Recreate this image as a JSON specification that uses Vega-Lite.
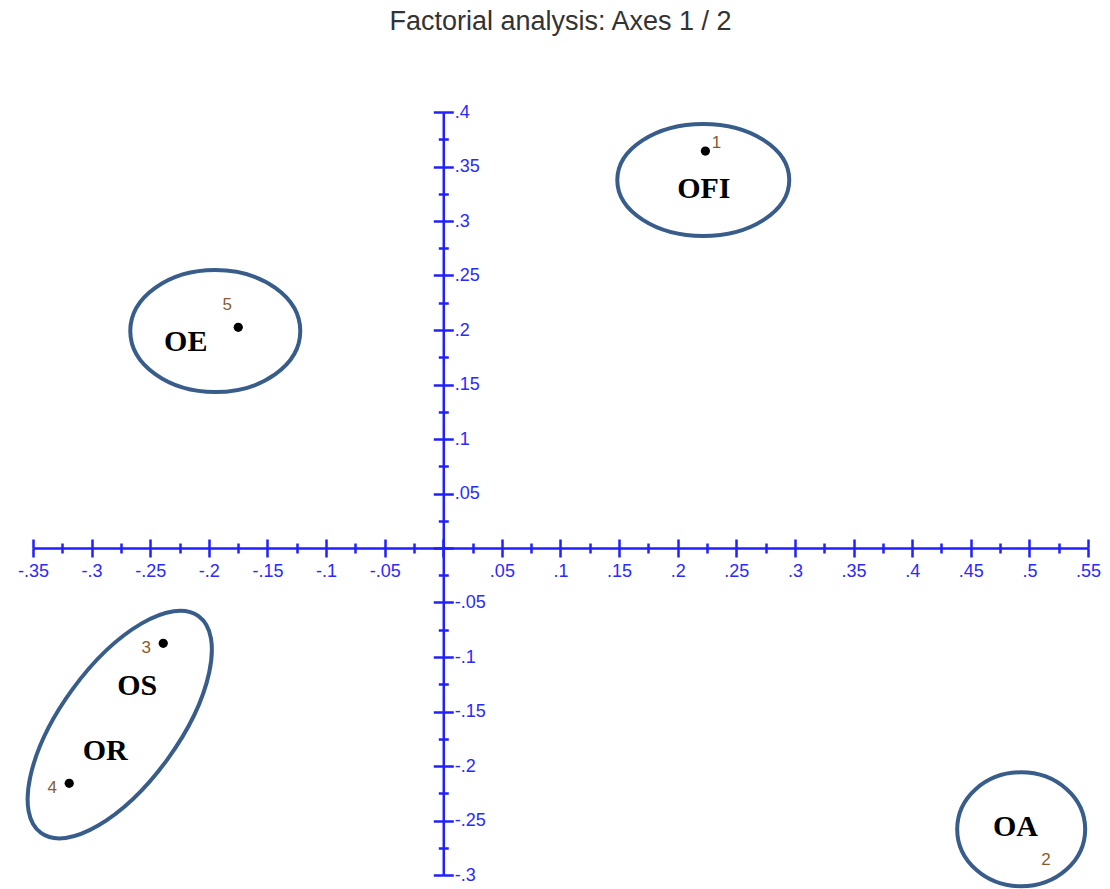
{
  "$schema": "https://vega.github.io/schema/vega-lite/v6.json",
  "width": 1055,
  "height": 763,
  "autosize": "none",
  "padding": {"left": 33, "top": 112, "right": 22, "bottom": 14},
  "background": "white",
  "title": {
    "text": "Factorial analysis: Axes 1 / 2",
    "anchor": "middle",
    "frame": "group",
    "baseline": "alphabetic",
    "offset": 46,
    "font": "Liberation Sans",
    "fontSize": 27,
    "fontWeight": "normal",
    "color": "#333333"
  },
  "config": {
    "view": {"stroke": null},
    "axis": {
      "grid": false,
      "title": null,
      "domainColor": "#2020ff",
      "domainWidth": 2.5,
      "tickColor": "#2020ff",
      "tickWidth": 2.5,
      "labelColor": "#2a2aff",
      "labelFont": "Liberation Sans",
      "labelFontSize": 18,
      "labelOverlap": false,
      "labelFlush": false
    }
  },
  "datasets": {
    "points": [
      {"id": 1, "f1": 0.2236, "f2": 0.3642},
      {"id": 2, "f1": 0.5047, "f2": -0.2936},
      {"id": 3, "f1": -0.2389, "f2": -0.0874},
      {"id": 4, "f1": -0.3191, "f2": -0.2159},
      {"id": 5, "f1": -0.1749, "f2": 0.2025}
    ],
    "groups": [
      {"group": "OFI", "f1": 0.2218, "f2": 0.3376},
      {"group": "OE", "f1": -0.1945, "f2": 0.199},
      {"group": "OS/OR", "f1": -0.276, "f2": -0.162},
      {"group": "OA", "f1": 0.493, "f2": -0.258}
    ],
    "groupNames": [
      {"name": "OFI", "f1": 0.2223, "f2": 0.3298},
      {"name": "OE", "f1": -0.2197, "f2": 0.189},
      {"name": "OS", "f1": -0.2611, "f2": -0.1266},
      {"name": "OR", "f1": -0.2884, "f2": -0.1862},
      {"name": "OA", "f1": 0.4881, "f2": -0.256}
    ]
  },
  "layer": [
    {
      "data": {"name": "groups"},
      "mark": {"type": "point", "filled": false, "size": 4, "opacity": 1, "stroke": "#385D8A", "strokeWidth": 4},
      "encoding": {
        "x": {
          "field": "f1", "type": "quantitative",
          "scale": {"domain": [-0.35, 0.55], "nice": false, "zero": false},
          "axis": {
            "orient": "bottom",
            "offset": {"expr": "scale('y', 0) - height"},
            "values": [-0.35,-0.325,-0.3,-0.275,-0.25,-0.225,-0.2,-0.175,-0.15,-0.125,-0.1,-0.075,-0.05,-0.025,0,0.025,0.05,0.075,0.1,0.125,0.15,0.175,0.2,0.225,0.25,0.275,0.3,0.325,0.35,0.375,0.4,0.425,0.45,0.475,0.5,0.525,0.55],
            "tickSize": {"condition": {"test": "abs(datum.value*20 - round(datum.value*20)) < 0.01", "value": 9}, "value": 5},
            "labelPadding": 5,
            "labelExpr": "(abs(datum.value*20 - round(datum.value*20)) > 0.01 || datum.value == 0) ? '' : replace('' + datum.value, '0.', '.')"
          }
        },
        "y": {
          "field": "f2", "type": "quantitative",
          "scale": {"domain": [-0.3, 0.4], "nice": false, "zero": false},
          "axis": {
            "orient": "right",
            "offset": {"expr": "scale('x', 0) - width"},
            "values": [-0.3,-0.275,-0.25,-0.225,-0.2,-0.175,-0.15,-0.125,-0.1,-0.075,-0.05,-0.025,0,0.025,0.05,0.075,0.1,0.125,0.15,0.175,0.2,0.225,0.25,0.275,0.3,0.325,0.35,0.375,0.4],
            "tickSize": {"condition": {"test": "abs(datum.value*20 - round(datum.value*20)) < 0.01", "value": 10}, "value": 5},
            "labelPadding": 1,
            "labelExpr": "(abs(datum.value*20 - round(datum.value*20)) > 0.01 || datum.value == 0) ? '' : replace('' + datum.value, '0.', '.')"
          }
        },
        "shape": {
          "field": "group", "type": "nominal", "legend": null,
          "scale": {
            "domain": ["OFI", "OE", "OS/OR", "OA"],
            "range": [
              "M -86 0 A 86 56 0 1 0 86 0 A 86 56 0 1 0 -86 0 Z",
              "M -85 0 A 85 61 0 1 0 85 0 A 85 61 0 1 0 -85 0 Z",
              "M -78.8 108.4 A 134 59 -54 1 0 78.8 -108.4 A 134 59 -54 1 0 -78.8 108.4 Z",
              "M -64 0 A 64 57 0 1 0 64 0 A 64 57 0 1 0 -64 0 Z"
            ]
          }
        }
      }
    },
    {
      "data": {"name": "points"},
      "transform": [{"filter": "datum.id != 2"}],
      "mark": {"type": "circle", "size": 85, "opacity": 1, "color": "black"},
      "encoding": {
        "x": {
          "field": "f1", "type": "quantitative",
          "scale": {"domain": [-0.35, 0.55], "nice": false, "zero": false},
          "axis": {
            "orient": "top",
            "offset": {"expr": "-scale('y', 0)"},
            "domain": false,
            "labels": false,
            "values": [-0.35,-0.325,-0.3,-0.275,-0.25,-0.225,-0.2,-0.175,-0.15,-0.125,-0.1,-0.075,-0.05,-0.025,0,0.025,0.05,0.075,0.1,0.125,0.15,0.175,0.2,0.225,0.25,0.275,0.3,0.325,0.35,0.375,0.4,0.425,0.45,0.475,0.5,0.525,0.55],
            "tickSize": {"condition": {"test": "abs(datum.value*20 - round(datum.value*20)) < 0.01", "value": 9}, "value": 5}
          }
        },
        "y": {
          "field": "f2", "type": "quantitative",
          "scale": {"domain": [-0.3, 0.4], "nice": false, "zero": false},
          "axis": {
            "orient": "left",
            "offset": {"expr": "-scale('x', 0)"},
            "domain": false,
            "labels": false,
            "values": [-0.3,-0.275,-0.25,-0.225,-0.2,-0.175,-0.15,-0.125,-0.1,-0.075,-0.05,-0.025,0,0.025,0.05,0.075,0.1,0.125,0.15,0.175,0.2,0.225,0.25,0.275,0.3,0.325,0.35,0.375,0.4],
            "tickSize": {"condition": {"test": "abs(datum.value*20 - round(datum.value*20)) < 0.01", "value": 10}, "value": 5}
          }
        }
      }
    },
    {
      "data": {"name": "points"},
      "transform": [{"filter": "datum.id == 1 || datum.id == 2"}],
      "mark": {"type": "text", "dx": 11, "dy": -8, "font": "Liberation Sans", "fontSize": 17, "color": "#8a5a2e", "baseline": "middle", "align": "center"},
      "encoding": {
        "x": {"field": "f1", "type": "quantitative", "axis": null},
        "y": {"field": "f2", "type": "quantitative", "axis": null},
        "text": {"field": "id", "type": "nominal"}
      }
    },
    {
      "data": {"name": "points"},
      "transform": [{"filter": "datum.id == 5"}],
      "mark": {"type": "text", "dx": -11, "dy": -22, "font": "Liberation Sans", "fontSize": 17, "color": "#8a5a2e", "baseline": "middle", "align": "center"},
      "encoding": {
        "x": {"field": "f1", "type": "quantitative", "axis": null},
        "y": {"field": "f2", "type": "quantitative", "axis": null},
        "text": {"field": "id", "type": "nominal"}
      }
    },
    {
      "data": {"name": "points"},
      "transform": [{"filter": "datum.id == 3 || datum.id == 4"}],
      "mark": {"type": "text", "dx": -17, "dy": 5, "font": "Liberation Sans", "fontSize": 17, "color": "#8a5a2e", "baseline": "middle", "align": "center"},
      "encoding": {
        "x": {"field": "f1", "type": "quantitative", "axis": null},
        "y": {"field": "f2", "type": "quantitative", "axis": null},
        "text": {"field": "id", "type": "nominal"}
      }
    },
    {
      "data": {"name": "groupNames"},
      "mark": {"type": "text", "font": "Liberation Serif", "fontWeight": "bold", "fontSize": 30, "color": "black", "baseline": "middle", "align": "center"},
      "encoding": {
        "x": {"field": "f1", "type": "quantitative", "axis": null},
        "y": {"field": "f2", "type": "quantitative", "axis": null},
        "text": {"field": "name", "type": "nominal"}
      }
    }
  ],
  "resolve": {"axis": {"x": "independent", "y": "independent"}}
}
